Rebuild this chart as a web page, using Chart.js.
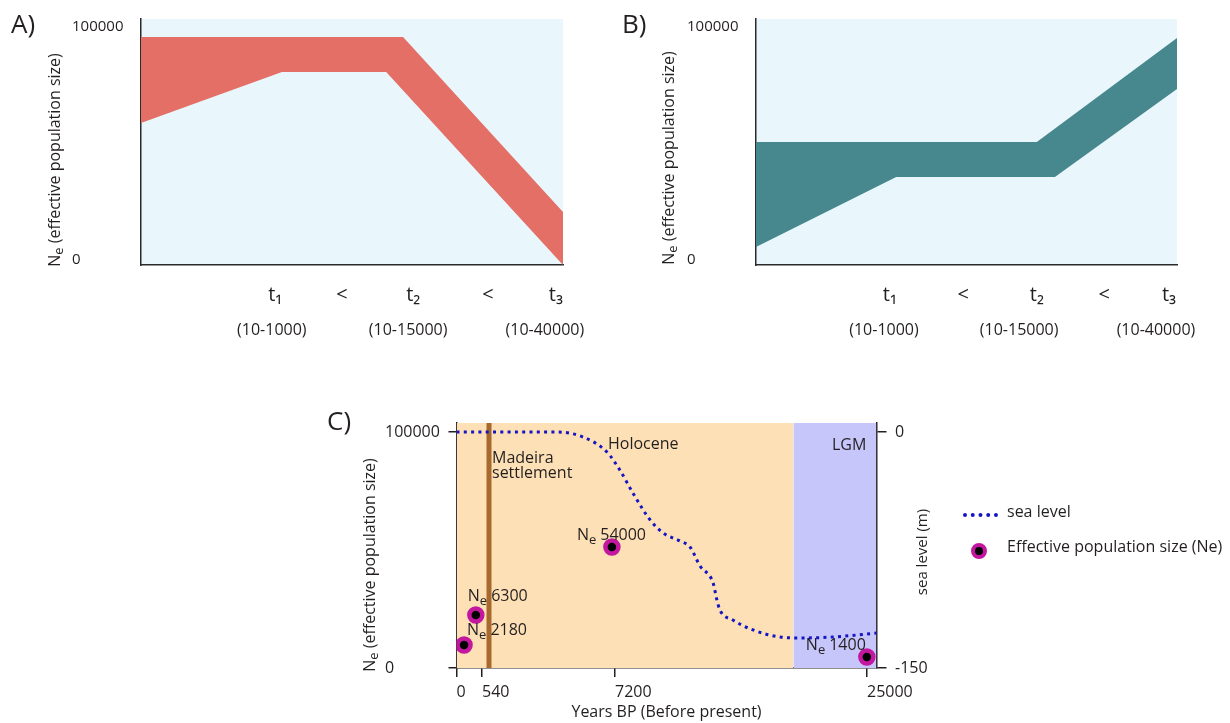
<!DOCTYPE html>
<html><head><meta charset="utf-8">
<script src="https://cdn.jsdelivr.net/npm/chart.js@4.4.1/dist/chart.umd.min.js"></script>
<style>
html,body{margin:0;padding:0;background:#fff;}
body{width:1230px;height:723px;position:relative;overflow:hidden;font-family:'Open Sans',sans-serif;color:#231f20;}
canvas{position:absolute;}
.t{position:absolute;white-space:nowrap;line-height:1;font-size:16px;}
.rot{transform:translate(-50%,-50%) rotate(-90deg);font-size:16px;}
.rot2{transform:translate(-50%,-50%) rotate(-90deg);font-size:15px;}
.sub{font-size:13px;position:relative;top:3px;}
.letter{font-size:26px;}
</style></head><body>
<canvas id="cA" width="600" height="350" style="left:0;top:0"></canvas>
<canvas id="cB" width="615" height="350" style="left:615px;top:0"></canvas>
<canvas id="cC" width="930" height="343" style="left:300px;top:380px"></canvas>

<div class="t letter" style="left:11px;top:10px">A)</div>
<div class="t letter" style="left:622px;top:10px">B)</div>
<div class="t letter" style="left:327px;top:407px">C)</div>

<div class="t rot" style="left:54px;top:160px">N<span class="sub">e</span> (effective population size)</div>
<div class="t rot" style="left:668px;top:158px">N<span class="sub">e</span> (effective population size)</div>
<div class="t rot" style="left:369px;top:565px">N<span class="sub">e</span> (effective population size)</div>
<div class="t rot2" style="left:921px;top:552px">sea level (m)</div>

<div class="t" style="left:492px;top:449px">Madeira</div>
<div class="t" style="left:492px;top:464px">settlement</div>
<div class="t" style="left:608px;top:435px">Holocene</div>
<div class="t" style="left:832px;top:436px">LGM</div>

<div style="position:absolute;left:963px;top:513px;width:35px;height:0;border-top:4px dotted #1515c4"></div>
<div class="t" style="left:1007px;top:503px">sea level</div>
<div style="position:absolute;left:971px;top:543px;width:8px;height:8px;background:#000;border:4px solid #c4179f;border-radius:50%"></div>
<div class="t" style="left:1007px;top:538px">Effective population size (Ne)</div>

<script>
// ---------- Panels A & B (schematic time axis, % of axis width) ----------
const timeTickLabels = ['t\u2081', '<', 't\u2082', '<', 't\u2083'];
const rangeLabels = ['(10-1000)', '(10-15000)', '(10-40000)'];
const tickPosA = [31.8, 47.6, 64.5, 82.2, 98.3];
const rangePosA = [31.0, 63.3, 95.7];
const tickPosB = [31.8, 49.2, 66.7, 82.7, 98.1];
const rangePosB = [30.4, 62.5, 95.0];
const neTicks = [0, 100000];

const bandA_upperX = [0, 62.1, 100];
const bandA_upperY = [95700, 95700, 20600];
const bandA_lowerX = [0, 33.4, 58.1, 100];
const bandA_lowerY = [58800, 80700, 80700, -2100];

const bandB_upperX = [0, 66.7, 100];
const bandB_upperY = [50600, 50600, 95300];
const bandB_lowerX = [0, 33.3, 71.0, 100];
const bandB_lowerY = [5600, 35600, 35600, 73400];

// ---------- Panel C ----------
const yearTickPos = [0, 6.07, 37.74, 97.74];
const yearTickLabels = ['0', '540', '7200', '25000'];
const seaTicks = [-150, 0];
const nePosC = [1.8, 4.6, 37.0, 97.7];
const neValC = [9750, 22460, 51270, 4660];
const neLabelC = ['2180', '6300', '54000', '1400'];
const seaPos = [0, 23.9, 30.1, 35.8, 38.9, 42.0, 46.1, 49.2, 53.2, 55.6, 58.0, 61.1, 62.0, 62.7, 65.8, 70.6, 77.0, 81.8, 89.6, 100];
const seaLevel = [0, 0, -3.2, -12.7, -24.2, -38.8, -55.9, -64.2, -69.3, -73.1, -85.2, -96.0, -106.8, -113.1, -119.5, -125.8, -130.3, -130.9, -130.3, -127.8];
const madeiraPos = [7.74, 7.74];
const holocenePos = [0, 80.2];
const lgmPos = [80.2, 100];

// label placement (style, not data)
const neLabelDx = [3, -8, -35, -61];
const neLabelDy = [-10, -14, -7, -7];

Chart.defaults.font.family = "'Open Sans', sans-serif";
Chart.defaults.color = '#231f20';

const INK = '#231f20';
const toPts = (xs, ys) => xs.map((x, i) => ({x: x, y: ys[i]}));

const bgPlugin = {
  id: 'bgArea',
  beforeDraw(chart, args, opts) {
    if (!opts || !opts.color) return;
    const a = chart.chartArea, ctx = chart.ctx;
    ctx.save();
    ctx.fillStyle = opts.color;
    ctx.fillRect(a.left, a.top, a.right - a.left, a.bottom - a.top);
    ctx.restore();
  }
};

function bandChart(id, upX, upY, loX, loY, color, tickPos, rangePos, padRight) {
  return new Chart(document.getElementById(id), {
    type: 'line',
    data: {datasets: [
      {data: toPts(upX, upY), fill: '+1', backgroundColor: color, borderColor: color, borderWidth: 0, pointRadius: 0},
      {data: toPts(loX, loY), fill: false, borderColor: color, borderWidth: 0, pointRadius: 0}
    ]},
    options: {
      responsive: false, animation: false, devicePixelRatio: 1, events: [],
      layout: {padding: {left: 72, top: 19, right: padRight, bottom: 5}},
      plugins: {legend: {display: false}, tooltip: {enabled: false}, bgArea: {color: '#e9f7fd'}},
      scales: {
        x: {type: 'linear', min: 0, max: 100, position: 'bottom', weight: 0,
          grid: {display: false, drawTicks: false},
          border: {display: true, color: '#2b2b2b', width: 1.5},
          afterBuildTicks: s => { s.ticks = tickPos.map(v => ({value: v})); },
          afterFit: s => { s.height = 45; },
          ticks: {autoSkip: false, maxRotation: 0, padding: 18, font: {size: 20}, color: INK,
            callback: (v, i) => timeTickLabels[i]}},
        x2: {type: 'linear', min: 0, max: 100, position: 'bottom', weight: 1,
          grid: {display: false, drawTicks: false},
          border: {display: false},
          afterBuildTicks: s => { s.ticks = rangePos.map(v => ({value: v})); },
          afterFit: s => { s.height = 35; },
          ticks: {autoSkip: false, maxRotation: 0, padding: 10.4, font: {size: 16}, color: INK,
            callback: (v, i) => rangeLabels[i]}},
        y: {type: 'linear', min: -2146, max: 103433, position: 'left',
          grid: {display: false, drawTicks: false},
          border: {display: true, color: '#2b2b2b', width: 1.5},
          afterBuildTicks: s => { s.ticks = neTicks.map(v => ({value: v})); },
          afterFit: s => { s.width = 69; },
          ticks: {crossAlign: 'far', padding: 0, font: {size: 15}, color: INK,
            callback: v => String(v)}}
      }
    },
    plugins: [bgPlugin]
  });
}

bandChart('cA', bandA_upperX, bandA_upperY, bandA_lowerX, bandA_lowerY, '#e46f66', tickPosA, rangePosA, 37);
bandChart('cB', bandB_upperX, bandB_upperY, bandB_lowerX, bandB_lowerY, '#47878e', tickPosB, rangePosB, 53);

const Y_MAX_C = 103814;

const neLabelPlugin = {
  id: 'neLabels',
  afterDatasetsDraw(chart) {
    const ctx = chart.ctx, x = chart.scales.x, y = chart.scales.y;
    ctx.save();
    ctx.fillStyle = INK;
    ctx.textBaseline = 'alphabetic';
    ctx.textAlign = 'left';
    nePosC.forEach((p, i) => {
      const px = x.getPixelForValue(p) + neLabelDx[i];
      const py = y.getPixelForValue(neValC[i]) + neLabelDy[i];
      ctx.font = "16px 'Open Sans'";
      ctx.fillText('N', px, py);
      let w = ctx.measureText('N').width;
      ctx.font = "13px 'Open Sans'";
      ctx.fillText('e', px + w, py + 4);
      w += ctx.measureText('e').width + 4;
      ctx.font = "16px 'Open Sans'";
      ctx.fillText(neLabelC[i], px + w, py);
    });
    ctx.restore();
  }
};

new Chart(document.getElementById('cC'), {
  type: 'line',
  data: {datasets: [
    {label: 'Effective population size (Ne)', data: toPts(nePosC, neValC), showLine: false,
      pointRadius: 6.5, pointBorderWidth: 4.5, pointBackgroundColor: '#000', pointBorderColor: '#c4179f',
      yAxisID: 'y', order: 0},
    {label: 'sea level', data: toPts(seaPos, seaLevel), yAxisID: 'y2', borderColor: '#1515c4',
      borderWidth: 3, borderDash: [3, 4.3], borderCapStyle: 'butt', cubicInterpolationMode: 'monotone',
      pointRadius: 0, fill: false, order: 1},
    {label: 'Madeira settlement', data: toPts(madeiraPos, [0, Y_MAX_C]), yAxisID: 'y',
      borderColor: '#a8692c', borderWidth: 5, pointRadius: 0, fill: false, order: 2},
    {label: 'LGM', data: toPts(lgmPos, [Y_MAX_C, Y_MAX_C]), yAxisID: 'y', fill: 'start',
      backgroundColor: '#c7c6fa', borderWidth: 0, pointRadius: 0, order: 5},
    {label: 'Holocene', data: toPts(holocenePos, [Y_MAX_C, Y_MAX_C]), yAxisID: 'y', fill: 'start',
      backgroundColor: '#fde0b5', borderWidth: 0, pointRadius: 0, order: 6}
  ]},
  options: {
    responsive: false, animation: false, devicePixelRatio: 1, events: [],
    layout: {padding: {left: 85, top: 43, right: 293.5, bottom: 0}},
    plugins: {legend: {display: false}, tooltip: {enabled: false}},
    scales: {
      x: {type: 'linear', min: 0, max: 100, position: 'bottom',
        grid: {display: true, drawOnChartArea: false, drawTicks: true, tickLength: 9, color: INK, lineWidth: 1.5},
        border: {display: true, color: INK, width: 1.5},
        afterBuildTicks: s => { s.ticks = yearTickPos.map(v => ({value: v})); },
        afterFit: s => { s.height = 55; },
        title: {display: true, text: 'Years BP (Before present)', font: {size: 16}, color: INK, padding: {top: 0, bottom: 1.4}},
        ticks: {autoSkip: false, maxRotation: 0, align: 'start', padding: 5.4, font: {size: 16}, color: INK,
          callback: (v, i) => yearTickLabels[i]}},
      y: {type: 'linear', min: 0, max: Y_MAX_C, position: 'left',
        grid: {display: true, drawOnChartArea: false, drawTicks: true, tickLength: 8, color: INK, lineWidth: 1.5},
        border: {display: true, color: INK, width: 1.5},
        afterBuildTicks: s => { s.ticks = neTicks.map(v => ({value: v})); },
        afterFit: s => { s.width = 71.5; },
        ticks: {crossAlign: 'far', padding: 0, font: {size: 16}, color: INK, callback: v => String(v)}},
      y2: {type: 'linear', min: -150, max: 5.72, position: 'right',
        grid: {display: true, drawOnChartArea: false, drawTicks: true, tickLength: 10, color: INK, lineWidth: 1.5},
        border: {display: true, color: INK, width: 1.5},
        afterBuildTicks: s => { s.ticks = seaTicks.map(v => ({value: v})); },
        afterFit: s => { s.width = 60; },
        ticks: {padding: 8.5, font: {size: 16}, color: INK, callback: v => String(v)}}
    }
  },
  plugins: [neLabelPlugin]
});
</script>
</body></html>
